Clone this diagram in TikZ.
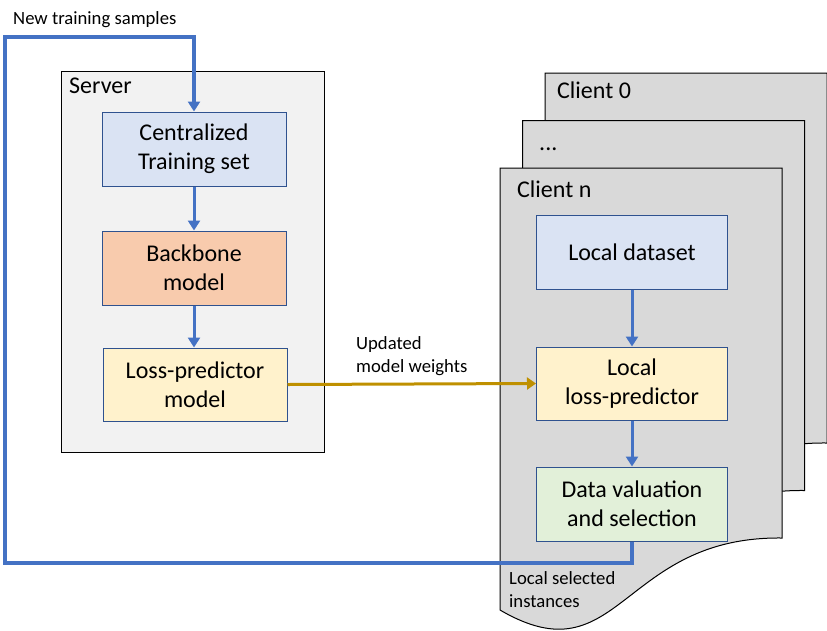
\documentclass[tikz,border=0pt]{standalone}
\usepackage{fontspec}
\setmainfont{Carlito}
\usetikzlibrary{arrows.meta}
\definecolor{flowblue}{HTML}{4472C4}
\definecolor{boxedge}{HTML}{2F528F}
\definecolor{golden}{HTML}{BF9000}
\definecolor{srvfill}{HTML}{F2F2F2}
\definecolor{clifill}{HTML}{D9D9D9}
\definecolor{bluefill}{HTML}{DAE3F3}
\definecolor{orangefill}{HTML}{F8CBAD}
\definecolor{yellowfill}{HTML}{FFF2CC}
\definecolor{greenfill}{HTML}{E2F0D9}
\tikzset{
  procbox/.style={draw=boxedge, line width=1pt, align=center, inner sep=0pt,
    font=\fontsize{24}{29}\selectfont},
  smalllbl/.style={inner sep=0pt, align=left, font=\fontsize{18.67}{23}\selectfont},
  biglbl/.style={inner sep=0pt, font=\fontsize{24}{29}\selectfont},
  flowarrow/.style={draw=flowblue, line width=3pt, -{Triangle[length=10pt,width=12pt]}},
  goldarrow/.style={draw=golden, line width=3pt, -{Triangle[length=9pt,width=12pt]}},
  pageshape/.style={draw=black, line width=1pt, fill=clifill},
}
\newcommand{\drawclientpage}{%
  \draw[pageshape] (500,168) -- (782,168) -- (782,538)
    .. controls (620,536) and (620,680) .. (500,610) -- cycle;}
\begin{document}
\begin{tikzpicture}[x=1pt,y=-1pt]
\useasboundingbox (0,0) rectangle (827,630);
% server
\node[draw=black, line width=1pt, fill=srvfill, minimum width=263pt, minimum height=381pt, inner sep=0pt] (server) at (192.5,261.5) {};
\node[biglbl, anchor=base west] (srvlbl) at (69,93) {Server};
\node[smalllbl, anchor=base west] (newlbl) at (13,24) {New training samples};
% clients
\begin{scope}[shift={(45,-95)}]\drawclientpage\end{scope}
\begin{scope}[shift={(22.5,-47.5)}]\drawclientpage\end{scope}
\drawclientpage
\node[biglbl, anchor=base west] (c0lbl) at (557,98) {Client 0};
\node[biglbl, anchor=base west] (cdots) at (539,150) {...};
\node[biglbl, anchor=base west] (cnlbl) at (517,197) {Client n};
% server boxes
\node[procbox, fill=bluefill, minimum width=184pt, minimum height=74pt] (cts) at (194,149) {Centralized\\Training set};
\node[procbox, fill=orangefill, minimum width=184pt, minimum height=74pt] (bb) at (194,268) {Backbone\\model};
\node[procbox, fill=yellowfill, minimum width=184pt, minimum height=73pt] (lp) at (195,384.5) {Loss-predictor\\model};
% client boxes
\node[procbox, fill=bluefill, minimum width=191pt, minimum height=74pt] (ld) at (632,252) {Local dataset};
\node[procbox, fill=yellowfill, minimum width=191pt, minimum height=73pt] (llp) at (632,383.5) {Local\\loss-predictor};
\node[procbox, fill=greenfill, minimum width=191pt, minimum height=74pt] (dv) at (632,504) {Data valuation\\and selection};
% arrows
\draw[flowarrow] (cts.south) -- (cts.south |- bb.north);
\draw[flowarrow] (bb.south) -- (bb.south |- lp.north);
\draw[flowarrow] (ld.south) -- (llp.north);
\draw[flowarrow] (llp.south) -- (dv.north);
\draw[goldarrow] (lp.east) -- (llp.west);
\node[smalllbl, anchor=west] (updlbl) at (356,356) {Updated\\model weights};
% loop
\coordinate (loopbl) at (5,563);
\coordinate (looptl) at (5,37);
\draw[flowarrow, line width=3.5pt] (dv.south) |- (loopbl) -- (looptl) -| (cts.north);
\node[smalllbl, anchor=west] (sellbl) at (509,590) {Local selected\\instances};
\end{tikzpicture}
\end{document}
